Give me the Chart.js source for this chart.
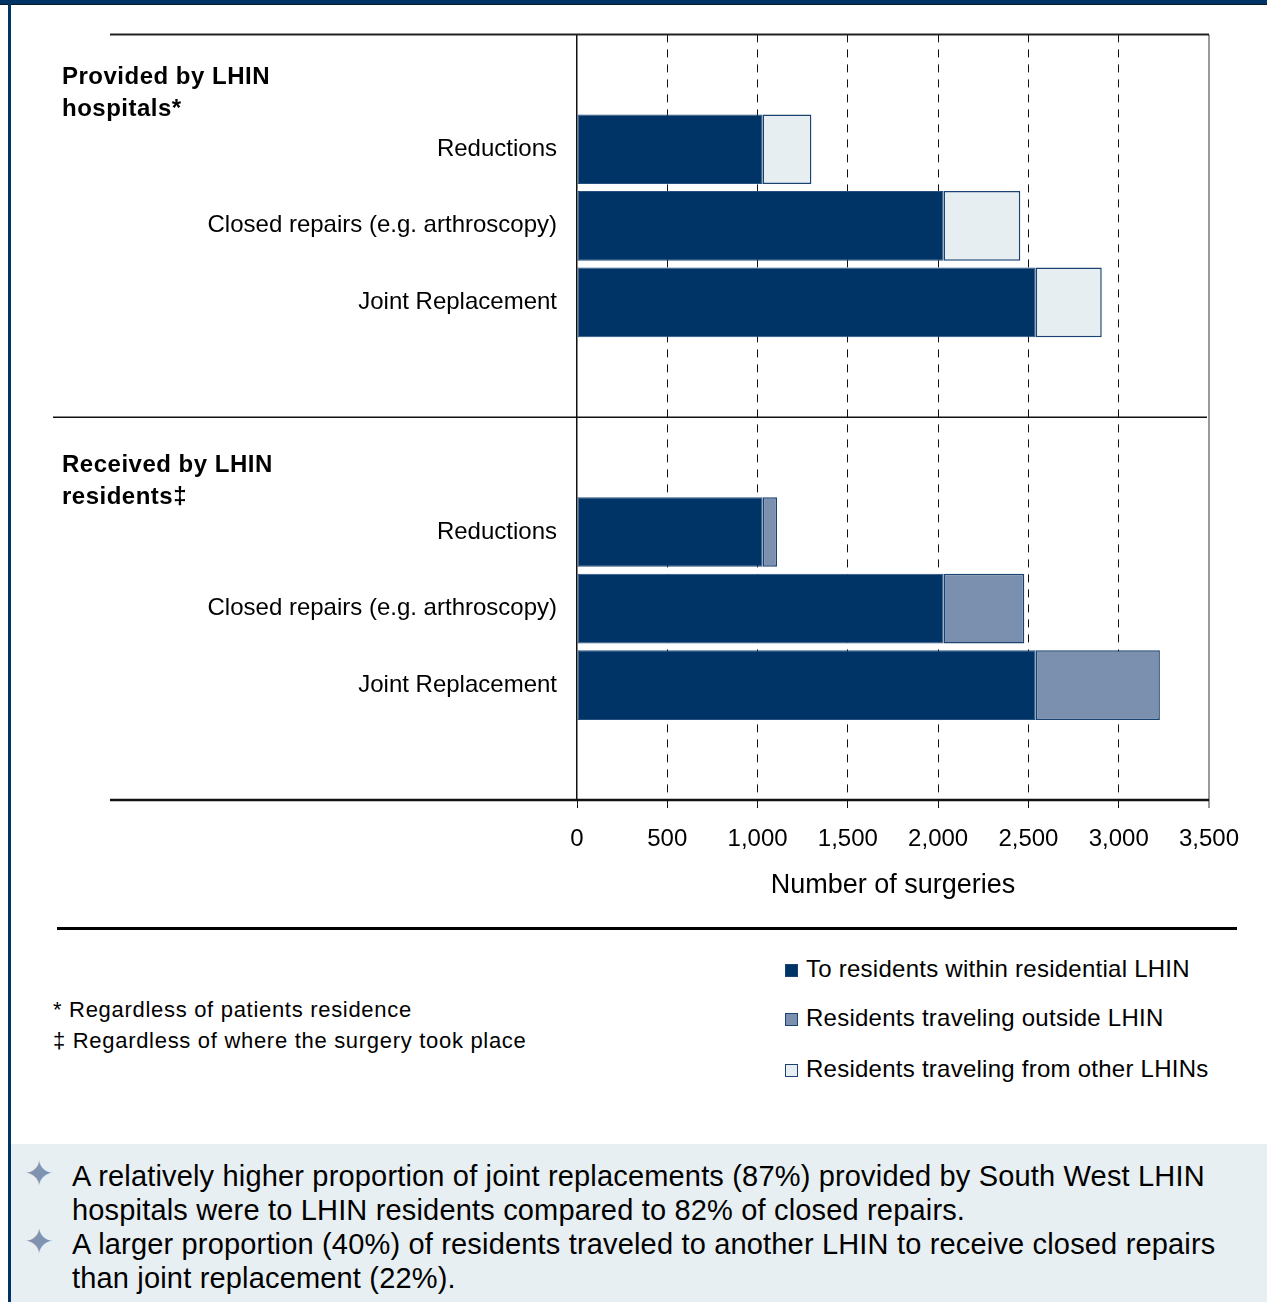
<!DOCTYPE html>
<html>
<head>
<meta charset="utf-8">
<script src="https://cdn.jsdelivr.net/npm/chart.js@4.4.1/dist/chart.umd.min.js"></script>
<style>
  html, body { margin:0; padding:0; background:#fff; }
  body { width:1267px; height:1302px; position:relative; overflow:hidden; font-family:"Liberation Sans", Arial, sans-serif; color:#000; }
  #chart { position:absolute; left:0; top:0; }
  .abs { position:absolute; white-space:nowrap; }
  .hdr { font-weight:bold; font-size:24px; line-height:32px; letter-spacing:0.5px; }
  .foot { font-size:22px; line-height:31px; letter-spacing:0.7px; }
  .leg { font-size:24px; line-height:28px; letter-spacing:0.25px; }
  .sw { position:absolute; width:11px; height:11px; border:1px solid #1a4372; }
  .box { position:absolute; left:11px; top:1144px; width:1256px; height:158px; background:#e8eff2; }
  .bul { font-size:29px; line-height:34px; letter-spacing:0.17px; }
  .star { position:absolute; color:#8094b2; font-size:36px; line-height:36px; font-family:"DejaVu Sans", sans-serif; }
</style>
</head>
<body>
<canvas id="chart" width="1267" height="920"></canvas>

<div class="abs" style="left:0;top:0;width:1267px;height:4px;background:#003366;"></div>
<div class="abs" style="left:0;top:4px;width:1267px;height:1px;background:#0a1a2a;"></div>
<div class="abs" style="left:8px;top:0;width:3px;height:1302px;background:#003366;"></div>

<div class="abs hdr" style="left:62px;top:60px;">Provided by LHIN<br>hospitals*</div>
<div class="abs hdr" style="left:62px;top:448px;">Received by LHIN<br>residents‡</div>

<div class="abs" style="left:57px;top:927px;width:1180px;height:3px;background:#000;"></div>

<div class="abs foot" style="left:53px;top:994px;">* Regardless of patients residence<br>‡ Regardless of where the surgery took place</div>

<div id="legend"></div>

<div class="box"></div>
<div class="star" style="left:24px;top:1156px;">✦</div>
<div class="star" style="left:24px;top:1224px;">✦</div>
<div class="abs bul" style="left:72px;top:1159px;">A relatively higher proportion of joint replacements (87%) provided by South West LHIN<br>hospitals were to LHIN residents compared to 82% of closed repairs.<br>A larger proportion (40%) of residents traveled to another LHIN to receive closed repairs<br>than joint replacement (22%).</div>

<script>
// ---- data ----
const categories = ['', 'Reductions', 'Closed repairs (e.g. arthroscopy)', 'Joint Replacement', '', '', 'Reductions', 'Closed repairs (e.g. arthroscopy)', 'Joint Replacement', ''];
const seriesNames = ['To residents within residential LHIN', 'Residents traveling outside LHIN', 'Residents traveling from other LHINs'];
const withinLHIN   = [null, 1028, 2030, 2540, null, null, 1028, 2030, 2540, null];
const travelOut    = [null, null, null, null, null, null, 80, 447, 688, null];
const travelFrom   = [null, 270, 425, 366, null, null, null, null, null, null];
const xTicks = [0, 500, 1000, 1500, 2000, 2500, 3000, 3500];

const colors = ['#003366', '#7b8fae', '#e7eef2'];
const borders = ['#26517f', '#1a4372', '#1a4372'];

// HTML legend
const legTop = [955, 1004, 1055];
const legEl = document.getElementById('legend');
seriesNames.forEach((n, i) => {
  const sw = document.createElement('div');
  sw.className = 'sw';
  sw.style.left = '785px';
  sw.style.top = (legTop[i] + 9) + 'px';
  sw.style.background = colors[i];
  legEl.appendChild(sw);
  const t = document.createElement('div');
  t.className = 'abs leg';
  t.style.left = '806px';
  t.style.top = legTop[i] + 'px';
  t.textContent = n;
  legEl.appendChild(t);
});

const linesPlugin = {
  id: 'lines',
  afterDatasetsDraw(chart) {
    const ctx = chart.ctx, a = chart.chartArea;
    const x = chart.scales.x, y = chart.scales.y;
    ctx.save();
    const xr = x.getPixelForValue(3500);
    ctx.strokeStyle = '#9a9a9a'; ctx.lineWidth = 2;
    ctx.beginPath(); ctx.moveTo(xr, a.top); ctx.lineTo(xr, a.bottom + 8); ctx.stroke();
    ctx.strokeStyle = '#222'; ctx.lineWidth = 2;
    ctx.beginPath(); ctx.moveTo(110, a.top); ctx.lineTo(xr, a.top); ctx.stroke();
    ctx.strokeStyle = '#111'; ctx.lineWidth = 2.5;
    ctx.beginPath(); ctx.moveTo(110, a.bottom); ctx.lineTo(xr, a.bottom); ctx.stroke();
    const ym = (y.getPixelForTick(4) + y.getPixelForTick(5)) / 2;
    ctx.strokeStyle = '#111'; ctx.lineWidth = 1.5;
    ctx.beginPath(); ctx.moveTo(53, ym); ctx.lineTo(xr - 2, ym); ctx.stroke();
    ctx.restore();
  }
};

new Chart(document.getElementById('chart'), {
  type: 'bar',
  data: {
    labels: categories,
    datasets: [
      { label: seriesNames[0], data: withinLHIN, backgroundColor: colors[0], borderColor: borders[0], borderWidth: 1, borderSkipped: false },
      { label: seriesNames[1], data: travelOut, backgroundColor: colors[1], borderColor: borders[1], borderWidth: 1.5, borderSkipped: false },
      { label: seriesNames[2], data: travelFrom, backgroundColor: colors[2], borderColor: borders[2], borderWidth: 1.5, borderSkipped: false }
    ]
  },
  options: {
    indexAxis: 'y',
    responsive: false,
    animation: false,
    devicePixelRatio: 1,
    layout: { padding: { top: 33, right: 58, left: 0, bottom: 0 } },
    datasets: { bar: { barPercentage: 0.91, categoryPercentage: 1.0 } },
    plugins: { legend: { display: false }, tooltip: { enabled: false } },
    scales: {
      x: {
        stacked: true,
        min: 0, max: 3500,
        afterFit: s => { s.height = 120; },
        afterBuildTicks: s => { s.ticks = xTicks.map(v => ({ value: v })); },
        ticks: {
          color: '#000',
          font: { family: '"Liberation Sans", Arial, sans-serif', size: 24 },
          padding: 17,
          maxRotation: 0,
          callback: v => v.toLocaleString('en-US')
        },
        grid: {
          drawOnChartArea: true,
          color: c => (c.tick && (c.tick.value === 0 || c.tick.value === 3500)) ? 'rgba(0,0,0,0)' : '#111',
          tickColor: '#111',
          tickLength: 8,
          lineWidth: 1
        },
        border: { display: false, dash: [8, 7] },
        title: {
          display: true,
          text: 'Number of surgeries',
          color: '#000',
          font: { family: '"Liberation Sans", Arial, sans-serif', size: 27 },
          padding: { top: 0, bottom: 18 }
        }
      },
      y: {
        stacked: true,
        afterFit: s => { s.width = 577; },
        ticks: {
          color: '#000',
          font: { family: '"Liberation Sans", Arial, sans-serif', size: 24 },
          padding: 20,
          autoSkip: false
        },
        grid: { display: false, drawTicks: false },
        border: { display: true, color: '#111', width: 1.5 }
      }
    }
  },
  plugins: [linesPlugin]
});
</script>
</body>
</html>
